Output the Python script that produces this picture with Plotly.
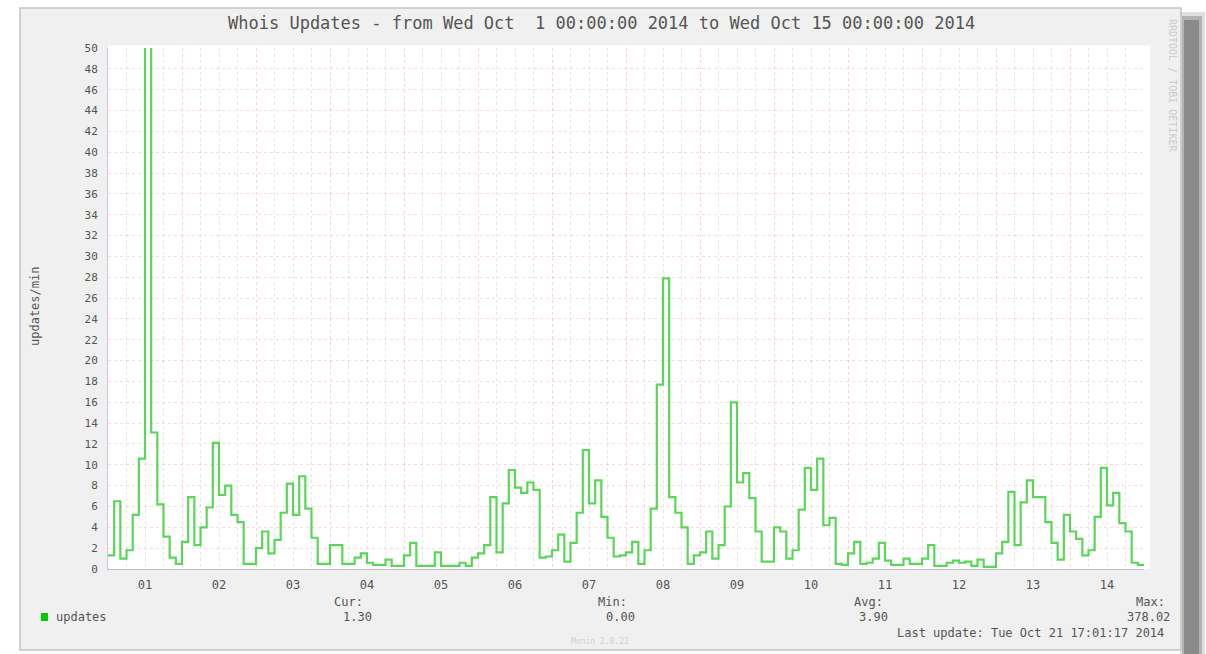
import plotly.graph_objects as go
import pandas as pd

# ---- data: 2-hour averages (updates/min), one list per day ----
day01 = [1.3, 6.5, 1.0, 1.8, 5.2, 10.6, 378.02, 13.1, 6.2, 3.1, 1.1, 0.5]
day02 = [2.6, 6.9, 2.3, 4.0, 5.9, 12.1, 7.1, 8.0, 5.2, 4.5, 0.5, 0.5]
day03 = [2.0, 3.6, 1.5, 2.8, 5.4, 8.2, 5.2, 8.9, 5.8, 3.0, 0.5, 0.5]
day04 = [2.3, 2.3, 0.5, 0.5, 1.1, 1.5, 0.6, 0.4, 0.4, 0.9, 0.3, 0.3]
day05 = [1.3, 2.5, 0.3, 0.3, 0.3, 1.6, 0.3, 0.3, 0.3, 0.6, 0.3, 1.1]
day06 = [1.5, 2.3, 6.9, 1.6, 6.3, 9.5, 7.8, 7.3, 8.3, 7.6, 1.1, 1.2]
day07 = [1.8, 3.3, 0.7, 2.5, 5.4, 11.4, 6.3, 8.5, 5.0, 3.0, 1.2, 1.3]
day08 = [1.6, 2.6, 0.5, 1.8, 5.8, 17.7, 27.9, 6.9, 5.4, 4.0, 0.5, 1.3]
day09 = [1.6, 3.6, 1.0, 2.3, 6.0, 16.0, 8.3, 9.2, 6.8, 3.6, 0.7, 0.7]
day10 = [4.0, 3.6, 1.0, 1.8, 5.7, 9.7, 7.6, 10.6, 4.2, 4.9, 0.5, 0.4]
day11 = [1.5, 2.6, 0.5, 0.6, 1.0, 2.5, 0.8, 0.4, 0.4, 1.0, 0.5, 0.5]
day12 = [1.0, 2.3, 0.3, 0.3, 0.6, 0.8, 0.6, 0.7, 0.3, 0.9, 0.2, 0.2]
day13 = [1.5, 2.6, 7.4, 2.3, 6.4, 8.5, 6.9, 6.9, 4.5, 2.5, 0.9, 5.2]
day14 = [3.6, 2.9, 1.3, 1.8, 5.0, 9.7, 6.1, 7.3, 4.4, 3.6, 0.6, 0.4]

days = [day01, day02, day03, day04, day05, day06, day07,
        day08, day09, day10, day11, day12, day13, day14]
values = [v for d in days for v in d]

start = "2014-10-01 00:00:00"
end = "2014-10-15 00:00:00"
times = list(pd.date_range(start, periods=len(values), freq="2h"))
# step line needs the end of the last interval
times_step = times + [pd.Timestamp(end)]
values_step = values + [values[-1]]

title_text = "Whois Updates - from Wed Oct\u00a0\u00a01 00:00:00 2014 to Wed Oct 15 00:00:00 2014"
y_title = "updates/min"
legend_name = "updates"
stat_labels = ["Cur:", "Min:", "Avg:", "Max:"]
stat_values = ["1.30", "0.00", "3.90", "378.02"]
last_update = "Last update: Tue Oct 21 17:01:17 2014"
side_mark = "RRDTOOL / TOBI OETIKER"
bottom_mark = "Munin 2.0.21"

# ---- layout geometry (pixels) ----
FIG_W, FIG_H = 1206, 654
L, R, T, B = 108, 62, 48, 85
PW = FIG_W - L - R
PH = FIG_H - T - B


def px(xp):
    return (xp - L) / PW


def py(yp):
    return (FIG_H - B - yp) / PH


MONO = "DejaVu Sans Mono, Liberation Mono, monospace"
TXT = "#555555"
GREEN = "#00cc00"

fig = go.Figure()
fig.add_trace(go.Scatter(
    x=times_step, y=values_step, mode="lines", name=legend_name,
    line=dict(color="#3fd03f", width=2.2, shape="hv"),
    opacity=0.85, showlegend=False, hoverinfo="x+y",
))

shapes = []
# drop shadow on the right
for (x0, x1, y0, op) in [(1180, 1205, 12, 0.18), (1182, 1202, 16, 0.28), (1184, 1199, 20, 0.38)]:
    shapes.append(dict(type="rect", xref="paper", yref="paper", layer="below",
                       x0=px(x0), x1=px(x1), y0=py(FIG_H + 5), y1=py(y0),
                       fillcolor=f"rgba(70,70,70,{op})", line=dict(width=0)))
# gray panel
shapes.append(dict(type="rect", xref="paper", yref="paper", layer="below",
                   x0=px(20), x1=px(1181), y0=py(650), y1=py(8),
                   fillcolor="#f0f0f0", line=dict(color="#c4c4c4", width=1.5)))
# white canvas
shapes.append(dict(type="rect", xref="x domain", yref="y domain", layer="below",
                   x0=0, x1=1.006, y0=0, y1=1.005,
                   fillcolor="#ffffff", line=dict(width=0)))
# legend swatch
shapes.append(dict(type="rect", xref="paper", yref="paper", layer="above",
                   x0=px(41), x1=px(48), y0=py(621), y1=py(613),
                   fillcolor=GREEN, line=dict(width=0)))


def note(text, x, y, size=12, color=TXT, xanchor="center", angle=0):
    return dict(text=text, x=px(x), y=py(y), xref="paper", yref="paper",
                xanchor=xanchor, yanchor="middle", showarrow=False,
                textangle=angle, font=dict(family=MONO, size=size, color=color))


ann = [
    note(title_text, 601, 23, size=17),
    note(y_title, 35, 307, size=12, angle=-90),
    note(legend_name, 54, 617, xanchor="left"),
]
stat_lx = [348, 612, 868, 1150]
stat_vx = [357, 620, 873, 1148]
for lab, val, lx, vx in zip(stat_labels, stat_values, stat_lx, stat_vx):
    ann.append(note(lab, lx, 602))
    ann.append(note(val, vx, 617))
ann.append(note(last_update, 1166, 633, xanchor="right"))
ann.append(note(side_mark, 1172, 85, size=10, color="#cccccc", angle=90))
ann.append(note(bottom_mark, 600, 641, size=8, color="#d0d0d0"))

fig.update_layout(
    width=FIG_W, height=FIG_H,
    margin=dict(l=L, r=R, t=T, b=B, pad=0),
    paper_bgcolor="#ffffff", plot_bgcolor="#ffffff",
    shapes=shapes, annotations=ann, showlegend=False,
    xaxis=dict(
        type="date", range=[start, end],
        tick0=start, dtick=86400000, tickformat="%d", ticklabelmode="period",
        showgrid=True, gridcolor="rgba(255,120,120,0.35)", griddash="dot", gridwidth=1,
        minor=dict(dtick=21600000, showgrid=True, gridcolor="rgba(170,170,170,0.3)",
                   griddash="dot", ticks=""),
        ticks="outside", ticklen=5, tickcolor="rgba(0,0,0,0)",
        showline=True, linecolor="#bdbdbd", linewidth=1, zeroline=False,
        tickfont=dict(family=MONO, size=12, color=TXT),
        fixedrange=True,
    ),
    yaxis=dict(
        range=[0, 50], dtick=2, tick0=0,
        showgrid=True, gridcolor="rgba(255,120,120,0.28)", griddash="dot", gridwidth=1,
        ticks="outside", ticklen=7, tickcolor="rgba(0,0,0,0)",
        showline=True, linecolor="#c8c8d8", linewidth=1, zeroline=False,
        tickfont=dict(family=MONO, size=11, color=TXT),
        fixedrange=True,
    ),
)

fig.write_html("out.html", config={"displayModeBar": False},
               post_script="document.body.style.margin='0px';")
